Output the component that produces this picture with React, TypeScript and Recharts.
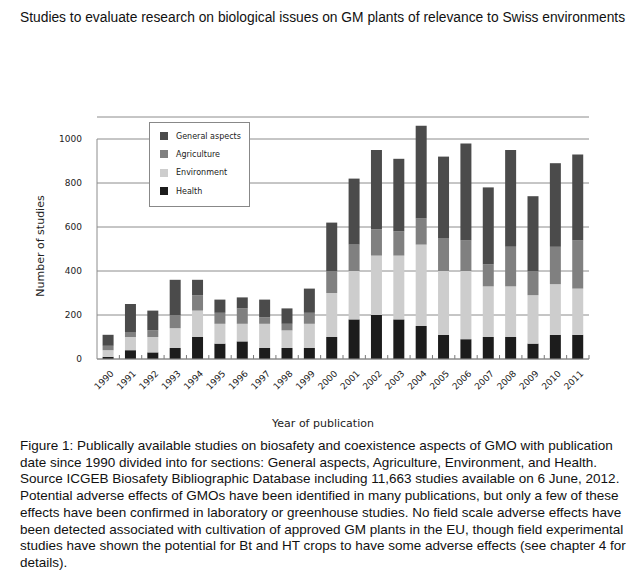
import { BarChart, Bar, XAxis, YAxis, CartesianGrid, Legend, ReferenceLine } from "recharts";

const years = [
  "1990", "1991", "1992", "1993", "1994", "1995", "1996", "1997", "1998", "1999", "2000",
  "2001", "2002", "2003", "2004", "2005", "2006", "2007", "2008", "2009", "2010", "2011",
];
const health = [10, 40, 30, 50, 100, 70, 80, 50, 50, 50, 100, 180, 200, 180, 150, 110, 90, 100, 100, 70, 110, 110];
const environment = [30, 60, 70, 90, 120, 90, 80, 110, 80, 110, 200, 220, 270, 290, 370, 290, 310, 230, 230, 220, 230, 210];
const agriculture = [20, 20, 30, 60, 70, 50, 70, 30, 30, 50, 100, 120, 120, 110, 120, 150, 140, 100, 180, 110, 170, 220];
const general = [50, 130, 90, 160, 70, 60, 50, 80, 70, 110, 220, 300, 360, 330, 420, 370, 440, 350, 440, 340, 380, 390];
const yTicks = [0, 200, 400, 600, 800, 1000];

// stacking order, bottom first
const series = [
  { key: "health", name: "Health", color: "#1c1c1c" },
  { key: "environment", name: "Environment", color: "#cdcdcd" },
  { key: "agriculture", name: "Agriculture", color: "#808080" },
  { key: "general", name: "General aspects", color: "#4b4b4b" },
];

const data = years.map((year, i) => ({
  year,
  health: health[i],
  environment: environment[i],
  agriculture: agriculture[i],
  general: general[i],
}));

const axisFont = '"DejaVu Sans", Verdana, sans-serif';
const textFont = '"Liberation Sans", Arial, sans-serif';
const gridColor = "#8c8c8c";

const caption = [
  "Figure 1: Publically available studies on biosafety and coexistence aspects of GMO with publication",
  "date since 1990 divided into for sections: General aspects, Agriculture, Environment, and Health.",
  "Source ICGEB Biosafety Bibliographic Database including 11,663 studies available on 6 June, 2012.",
  "Potential adverse effects of GMOs have been identified in many publications, but only a few of these",
  "effects have been confirmed in laboratory or greenhouse studies. No field scale adverse effects have",
  "been detected associated with cultivation of approved GM plants in the EU, though field experimental",
  "studies have shown the potential for Bt and HT crops to have some adverse effects (see chapter 4 for",
  "details).",
];

const YearTick = (props: any) => {
  const { x, y, payload } = props;
  const ax = x + 4;
  const ay = y + 13;
  return (
    <text
      x={ax}
      y={ay}
      transform={`rotate(-45 ${ax} ${ay})`}
      textAnchor="end"
      dominantBaseline="central"
      fontSize={9}
      fontFamily={axisFont}
      fill="#222"
    >
      {payload.value}
    </text>
  );
};

const LegendBox = () => (
  <div
    style={{
      width: 99,
      height: 79,
      border: "1px solid #888",
      background: "#fff",
      boxSizing: "content-box",
      paddingTop: 4,
    }}
  >
    {[...series].reverse().map((s) => (
      <div key={s.key} style={{ display: "flex", alignItems: "center", height: 18.3, paddingLeft: 10 }}>
        <span style={{ width: 8, height: 8, background: s.color, marginRight: 8 }} />
        <span style={{ fontSize: 8, fontFamily: axisFont, color: "#222" }}>{s.name}</span>
      </div>
    ))}
  </div>
);

export default function App() {
  return (
    <div style={{ position: "absolute", left: 0, top: 0, width: 640, height: 580, background: "#fff" }}>
      <div
        style={{
          position: "absolute",
          left: 20,
          top: 10,
          fontFamily: textFont,
          fontSize: 13.8,
          color: "#111",
          whiteSpace: "nowrap",
        }}
      >
        Studies to evaluate research on biological issues on GM plants of relevance to Swiss environments
      </div>

      <div style={{ position: "absolute", left: 0, top: 0 }}>
        <BarChart
          width={640}
          height={440}
          data={data}
          margin={{ top: 117, right: 51, bottom: 31, left: 0 }}
          barCategoryGap="25%"
        >
          <CartesianGrid vertical={false} stroke={gridColor} strokeWidth={1} />
          <XAxis
            dataKey="year"
            height={50}
            interval={0}
            tickLine={false}
            tickSize={0}
            tickMargin={0}
            axisLine={{ stroke: gridColor }}
            tick={<YearTick />}
            label={{
              value: "Year of publication",
              position: "center",
              dx: -20,
              dy: 39,
              style: { fontSize: 11, fontFamily: axisFont, fill: "#222" },
            }}
          />
          <YAxis
            width={97}
            domain={[0, 1100]}
            ticks={yTicks}
            interval={0}
            axisLine={false}
            tickLine={false}
            tickSize={0}
            tickMargin={15}
            tick={{ fontSize: 9, fontFamily: axisFont, fill: "#222" }}
            label={{
              value: "Number of studies",
              angle: -90,
              position: "center",
              dx: -8.5,
              dy: 8,
              style: { fontSize: 11, fontFamily: axisFont, fill: "#222" },
            }}
          />
          <ReferenceLine
            segment={[
              { x: years[0], y: 0 },
              { x: years[0], y: 1000 },
            ]}
            position="start"
            stroke={gridColor}
          />
          {years.map((yr) => (
            <ReferenceLine
              key={yr}
              segment={[
                { x: yr, y: 0 },
                { x: yr, y: 18 },
              ]}
              position="end"
              stroke="#777"
            />
          ))}
          {series.map((s) => (
            <Bar key={s.key} dataKey={s.key} name={s.name} stackId="a" fill={s.color} isAnimationActive={false} />
          ))}
          <Legend
            layout="vertical"
            align="center"
            verticalAlign="middle"
            content={<LegendBox />}
            wrapperStyle={{ left: 149, top: 122, width: 101, height: 81 }}
          />
        </BarChart>
      </div>

      <div
        style={{
          position: "absolute",
          left: 20,
          top: 438,
          fontFamily: textFont,
          fontSize: 13.5,
          lineHeight: "16.7px",
          color: "#111",
          whiteSpace: "nowrap",
        }}
      >
        {caption.map((line, i) => (
          <div key={i}>{line}</div>
        ))}
      </div>
    </div>
  );
}
